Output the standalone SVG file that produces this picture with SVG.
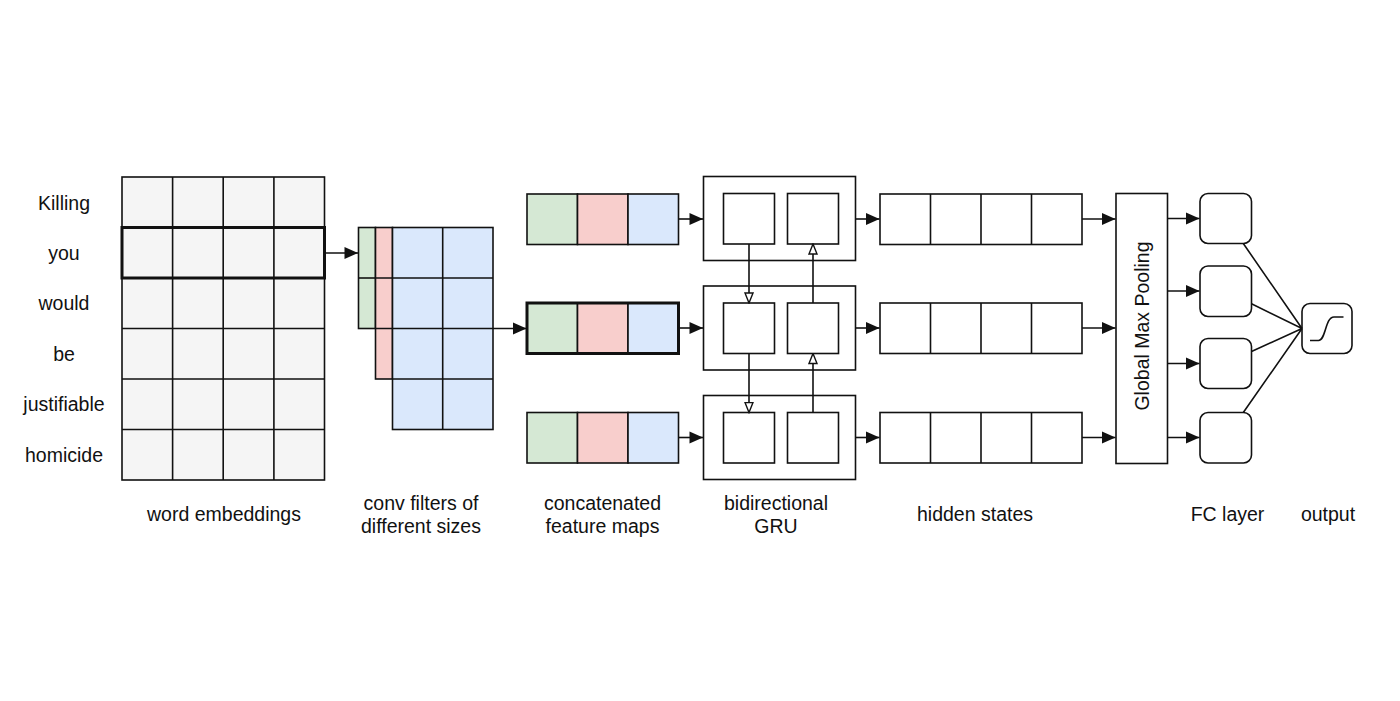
<svg xmlns="http://www.w3.org/2000/svg" width="1400" height="701" viewBox="0 0 1400 701">
<style>
text{font-family:"Liberation Sans",Arial,sans-serif;font-size:19.5px;fill:#111;text-anchor:middle}
.c{stroke:#111;stroke-width:1.6}
.g{fill:#f5f5f5}
.gr{fill:#d5e8d4}
.rd{fill:#f8cecc}
.bl{fill:#dae8fc}
.w{fill:#fff}
.n{fill:none}
.thick{fill:none;stroke:#111;stroke-width:3}
.ln{fill:none;stroke:#111;stroke-width:1.6}
</style>
<defs>
<marker id="ah" markerUnits="userSpaceOnUse" markerWidth="16" markerHeight="14" refX="14.5" refY="7" orient="auto">
<path d="M1,1 L14.5,7 L1,13 z" fill="#111"/>
</marker>
<marker id="oh" markerUnits="userSpaceOnUse" markerWidth="12" markerHeight="12" refX="11" refY="5" orient="auto">
<path d="M1,1 L11,5 L1,9 z" fill="#fff" stroke="#111" stroke-width="1.4"/>
</marker>
</defs>
<rect width="1400" height="701" fill="#fff"/>

<g id="words">
<text x="64" y="209.5">Killing</text>
<text x="64" y="259.5">you</text>
<text x="64" y="310">would</text>
<text x="64" y="360.5">be</text>
<text x="64" y="411">justifiable</text>
<text x="64" y="461.5">homicide</text>
</g>

<g id="embeddings">
<rect class="c g" x="122" y="177" width="202.5" height="303"/>
<path class="ln" d="M172.6 177V480M223.2 177V480M273.9 177V480M122 227.5H324.5M122 278H324.5M122 328.5H324.5M122 379H324.5M122 429.5H324.5"/>
<rect class="thick" x="122" y="227.5" width="202.5" height="50.5"/>
<text x="224" y="521">word embeddings</text>
</g>

<g id="conv-filters">
<rect class="c gr" x="358.5" y="227.5" width="17" height="101"/>
<path class="ln" d="M358.5 278H375.5"/>
<rect class="c rd" x="375.5" y="227.5" width="17" height="151.5"/>
<path class="ln" d="M375.5 278H392.5M375.5 328.5H392.5"/>
<rect class="c bl" x="392.5" y="227.5" width="100.5" height="202"/>
<path class="ln" d="M442.7 227.5V429.5M392.5 278H493M392.5 328.5H493M392.5 379H493"/>
<text x="421" y="510">conv filters of</text>
<text x="421" y="533">different sizes</text>
</g>

<g id="feature-maps">
<rect class="c gr" x="527" y="194" width="50.5" height="50.5"/>
<rect class="c rd" x="577.5" y="194" width="50.5" height="50.5"/>
<rect class="c bl" x="628" y="194" width="50.5" height="50.5"/>
<rect class="c gr" x="527" y="303" width="50.5" height="50.5"/>
<rect class="c rd" x="577.5" y="303" width="50.5" height="50.5"/>
<rect class="c bl" x="628" y="303" width="50.5" height="50.5"/>
<rect class="thick" x="527" y="303" width="151.5" height="50.5"/>
<rect class="c gr" x="527" y="412.5" width="50.5" height="50.5"/>
<rect class="c rd" x="577.5" y="412.5" width="50.5" height="50.5"/>
<rect class="c bl" x="628" y="412.5" width="50.5" height="50.5"/>
<text x="602.5" y="510">concatenated</text>
<text x="602.5" y="533">feature maps</text>
</g>

<g id="gru">
<rect class="c w" x="703.5" y="176.5" width="152" height="84"/>
<rect class="c w" x="723.5" y="193.5" width="51" height="50.5"/>
<rect class="c w" x="787.5" y="193.5" width="51" height="50.5"/>
<rect class="c w" x="703.5" y="286" width="152" height="84"/>
<rect class="c w" x="723.5" y="303" width="51" height="50.5"/>
<rect class="c w" x="787.5" y="303" width="51" height="50.5"/>
<rect class="c w" x="703.5" y="395.5" width="152" height="84"/>
<rect class="c w" x="723.5" y="412.5" width="51" height="50.5"/>
<rect class="c w" x="787.5" y="412.5" width="51" height="50.5"/>
<text x="776" y="510">bidirectional</text>
<text x="776" y="533">GRU</text>
</g>

<g id="hidden-states">
<rect class="c w" x="880" y="194" width="202" height="50.5"/>
<path class="ln" d="M930.5 194V244.5M981 194V244.5M1031.5 194V244.5"/>
<rect class="c w" x="880" y="303" width="202" height="50.5"/>
<path class="ln" d="M930.5 303V353.5M981 303V353.5M1031.5 303V353.5"/>
<rect class="c w" x="880" y="412.5" width="202" height="50.5"/>
<path class="ln" d="M930.5 412.5V463M981 412.5V463M1031.5 412.5V463"/>
<text x="975" y="521">hidden states</text>
</g>

<g id="global-max-pooling">
<rect class="c w" x="1116" y="193.5" width="51.5" height="270"/>
<text transform="translate(1149 326) rotate(-90)">Global Max Pooling</text>
</g>

<g id="fc-layer">
<rect class="c w" x="1200" y="193.5" width="51.5" height="50" rx="8"/>
<rect class="c w" x="1200" y="266" width="51.5" height="50.5" rx="8"/>
<rect class="c w" x="1200" y="338.5" width="51.5" height="50" rx="8"/>
<rect class="c w" x="1200" y="412.5" width="51.5" height="50.5" rx="8"/>
<text x="1227.5" y="521">FC layer</text>
</g>

<g id="output">
<rect class="c w" x="1302" y="303.5" width="50" height="50" rx="8"/>
<path class="ln" d="M1310 340.5H1318.5C1326 340.5 1325 317 1334 317H1343.5"/>
<text x="1328" y="521">output</text>
</g>

<g id="connectors">
<path class="ln" d="M324.5 253H358" marker-end="url(#ah)"/>
<path class="ln" d="M493 328.5H526.5" marker-end="url(#ah)"/>
<path class="ln" d="M678.5 219H703" marker-end="url(#ah)"/>
<path class="ln" d="M678.5 328H703" marker-end="url(#ah)"/>
<path class="ln" d="M678.5 437.5H703" marker-end="url(#ah)"/>
<path class="ln" d="M749 244V303" marker-end="url(#oh)"/>
<path class="ln" d="M749 353.5V412.5" marker-end="url(#oh)"/>
<path class="ln" d="M813 303V244" marker-end="url(#oh)"/>
<path class="ln" d="M813 412.5V353.5" marker-end="url(#oh)"/>
<path class="ln" d="M855.5 219H879.5" marker-end="url(#ah)"/>
<path class="ln" d="M855.5 328H879.5" marker-end="url(#ah)"/>
<path class="ln" d="M855.5 437.5H879.5" marker-end="url(#ah)"/>
<path class="ln" d="M1082 219H1115.5" marker-end="url(#ah)"/>
<path class="ln" d="M1082 328H1115.5" marker-end="url(#ah)"/>
<path class="ln" d="M1082 437.5H1115.5" marker-end="url(#ah)"/>
<path class="ln" d="M1167.5 218.5H1199.5" marker-end="url(#ah)"/>
<path class="ln" d="M1167.5 291H1199.5" marker-end="url(#ah)"/>
<path class="ln" d="M1167.5 363.5H1199.5" marker-end="url(#ah)"/>
<path class="ln" d="M1167.5 437.5H1199.5" marker-end="url(#ah)"/>
<path class="ln" d="M1243.3 243.5L1302 328.5M1251.5 303.7L1302 328.5M1251.5 351.5L1302 328.5M1243.3 412.5L1302 328.5"/>
</g>
</svg>
